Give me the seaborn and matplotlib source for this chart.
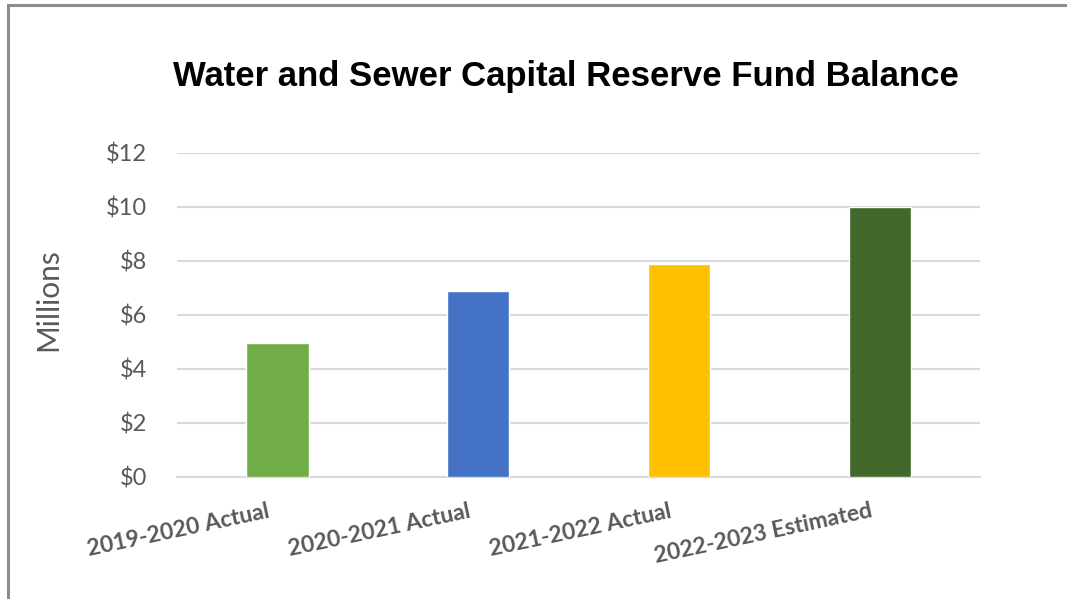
# =========================================
# IMPORTS
# =========================================
import pandas as pd
import matplotlib
matplotlib.use("Agg")
import matplotlib.pyplot as plt
import matplotlib.transforms as mtransforms
from matplotlib.patches import Rectangle
import seaborn as sns


# =========================================
# DATA
# =========================================
periods = ["2019-2020 Actual", "2020-2021 Actual", "2021-2022 Actual", "2022-2023 Estimated"]
balance_millions = [4.97, 6.9, 7.9, 10.0]
bar_colors = ["#70AD47", "#4472C4", "#FFC000", "#43682B"]
y_ticks = [0, 2, 4, 6, 8, 10, 12]
y_tick_labels = ["$0", "$2", "$4", "$6", "$8", "$10", "$12"]

TITLE = "Water and Sewer Capital Reserve Fund Balance"
Y_LABEL = "Millions"

TEXT_GRAY = "#595959"
GRID_GRAY = "#D9D9D9"


# =========================================
# PLOT
# =========================================
def main():
    sns.set_theme(style="white")
    plt.rcParams["font.family"] = ["Lato", "DejaVu Sans"]

    df = pd.DataFrame({"period": periods, "balance": balance_millions})

    fig = plt.figure(figsize=(10.67, 5.99), dpi=100)
    ax = fig.add_axes([0.1659, 0.2037, 0.7526, 0.5409])

    sns.barplot(
        data=df,
        x="period",
        y="balance",
        hue="period",
        palette=bar_colors,
        width=0.31,
        legend=False,
        saturation=1,
        ax=ax,
        zorder=3,
    )

    ax.set_xlim(-0.5, len(periods) - 0.5)
    ax.set_ylim(0, 12)
    ax.set_yticks(y_ticks)
    ax.set_yticklabels(y_tick_labels, color=TEXT_GRAY, fontsize=17)
    ax.tick_params(axis="y", length=0, pad=21.5)
    ax.tick_params(axis="x", length=0, pad=17)

    ax.grid(axis="y", color=GRID_GRAY, linewidth=1.5, zorder=0)
    ax.grid(axis="x", visible=False)
    for side in ["top", "right", "left"]:
        ax.spines[side].set_visible(False)
    ax.spines["bottom"].set_color(GRID_GRAY)
    ax.spines["bottom"].set_linewidth(1.5)

    # rotated category labels, shifted left of the bar centre like Excel
    shift = mtransforms.ScaledTranslation(-10 / 100, 0, fig.dpi_scale_trans)
    ax.set_xticks(range(len(periods)))
    ax.set_xticklabels(periods, rotation=12, ha="right", rotation_mode="anchor",
                       fontsize=16.5, fontweight="bold", color=TEXT_GRAY)
    for lbl in ax.get_xticklabels():
        lbl.set_transform(lbl.get_transform() + shift)

    ax.set_xlabel("")
    ax.set_ylabel(Y_LABEL, fontsize=21.5, color=TEXT_GRAY)
    ax.yaxis.set_label_coords(-0.143, 0.546)

    fig.text(0.53, 0.873, TITLE, ha="center", va="center",
             fontsize=25, fontweight="bold", color="black",
             family=["Liberation Sans", "DejaVu Sans"])

    # chart frame, cut off at the right and bottom edges
    fig.patches.append(Rectangle((8 / 1067, -0.1), 1.2, 1 - 5 / 599 + 0.1,
                                 transform=fig.transFigure, fill=False,
                                 edgecolor="#8C8C8C", linewidth=2.2))

    fig.savefig("out.png", dpi=100)


if __name__ == "__main__":
    main()
